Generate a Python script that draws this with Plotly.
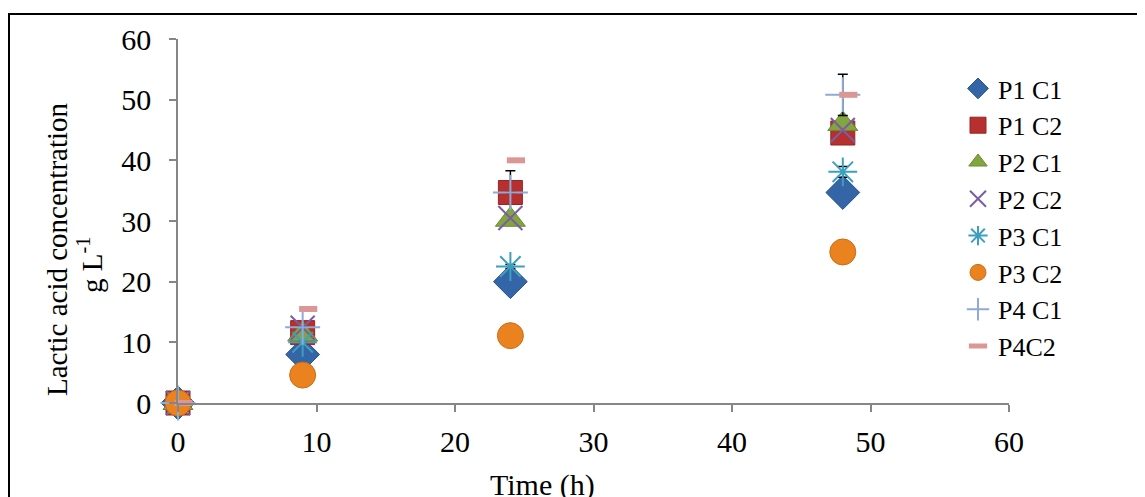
import plotly.graph_objects as go

# ---- data ----
times = [0, 9, 24, 48]
times_p4c2 = [0.4, 9.4, 24.4, 48.4]

p1c1 = [0, 8.0, 20.0, 34.7]
p1c2 = [0, 11.6, 34.7, 44.5]
p2c1 = [0, 11.3, 30.2, 46.0]
p2c2 = [0, 12.4, 30.5, 45.0]
p3c1 = [0, 10.0, 22.5, 38.1]
p3c2 = [0, 4.6, 11.1, 24.9]
p4c1 = [0, 12.5, 34.7, 50.8]
p4c2 = [0, 15.5, 40.0, 50.8]

p1c2_err = [0, 0, 3.6, 0]
p3c1_err = [0, 0, 0.35, 0.9]
p4c1_err = [0, 0, 0, 3.4]

x_ticks = [0, 10, 20, 30, 40, 50, 60]
y_ticks = [0, 10, 20, 30, 40, 50, 60]

FONT = "Liberation Serif"

fig = go.Figure()

def err(arr):
    return dict(type="data", array=arr, visible=True, color="black",
                thickness=1.5, width=5)

series = [
    ("P1 C1", times, p1c1, dict(symbol="diamond", size=26, color="#3465A6",
                               line=dict(color="#2A538A", width=1)), None),
    ("P1 C2", times, p1c2, dict(symbol="square", size=24, color="#B5302E",
                               line=dict(color="#962624", width=1)), p1c2_err),
    ("P2 C1", times, p2c1, dict(symbol="triangle-up", size=26, color="#82A53F",
                               line=dict(color="#6B8A32", width=1)), None),
    ("P2 C2", times, p2c2, dict(symbol="x-thin", size=24, color="#7A5DA3",
                               line=dict(color="#7A5DA3", width=2)), None),
    ("P3 C1", times, p3c1, dict(symbol="asterisk", size=24, color="#3BA0BF",
                               line=dict(color="#3BA0BF", width=2)), p3c1_err),
    ("P3 C2", times, p3c2, dict(symbol="circle", size=26, color="#E9821F",
                               line=dict(color="#C96E16", width=1)), None),
    ("P4 C1", times, p4c1, dict(symbol="cross-thin", size=25, color="#8EAAD6",
                               line=dict(color="#8EAAD6", width=2)), p4c1_err),
    ("P4C2", times_p4c2, p4c2, dict(symbol="line-ew", size=13, color="#DB9795",
                                   line=dict(color="#DB9795", width=6)), None),
]

for i, (name, xs, ys, mk, e) in enumerate(series):
    kw = {}
    if e is not None:
        kw["error_y"] = err(e)
    fig.add_trace(go.Scatter(
        x=xs, y=ys, name=name, mode="markers", marker=mk,
        cliponaxis=False, legendgroup=f"g{i}", **kw))

# page body has an 8px margin; compensate so the plot lands at target pixels
OFF = 8
W, H = 1145, 497
PL, PR, PT, PB = 178, 1009, 39, 403  # target plot-area pixel box
L = PL - OFF
T = PT - OFF
pw, ph = PR - PL, PB - PT
R = W - L - pw
B = H - T - ph

def px_x(p):
    return (p - PL) / pw

def px_y(p):
    return (PB - p) / ph

fig.update_layout(
    width=W, height=H,
    margin=dict(l=L, r=R, t=T, b=B),
    paper_bgcolor="white", plot_bgcolor="white",
    font=dict(family=FONT, size=28, color="black"),
    showlegend=True,
    legend=dict(x=px_x(958), y=px_y(65), xanchor="left", yanchor="top",
                font=dict(family=FONT, size=26), tracegroupgap=0,
                bgcolor="rgba(0,0,0,0)", itemsizing="trace"),
    xaxis=dict(range=[0, 60], tickvals=x_ticks, showgrid=False, zeroline=False,
               showline=True, linecolor="#868686", linewidth=1.5,
               ticks="outside", ticklen=7, tickcolor="#868686", tickwidth=1.5,
               ticklabelstandoff=4,
               tickfont=dict(family=FONT, size=30)),
    yaxis=dict(range=[0, 60], tickvals=y_ticks, showgrid=False, zeroline=False,
               showline=True, linecolor="#868686", linewidth=1.5,
               ticks="outside", ticklen=7, tickcolor="#868686", tickwidth=1.5,
               ticklabelstandoff=12,
               tickfont=dict(family=FONT, size=30)),
    shapes=[dict(type="rect", xref="paper", yref="paper",
                 x0=px_x(9), x1=px_x(1170), y0=px_y(530), y1=px_y(14),
                 line=dict(color="black", width=2), fillcolor="rgba(0,0,0,0)",
                 layer="below")],
    annotations=[
        dict(text="Lactic acid concentration", xref="paper", yref="paper",
             x=px_x(57), y=px_y(249), textangle=-90, showarrow=False,
             font=dict(family=FONT, size=29), xanchor="center", yanchor="middle"),
        dict(text="g L<sup>-1</sup>", xref="paper", yref="paper",
             x=px_x(90), y=px_y(265), textangle=-90, showarrow=False,
             font=dict(family=FONT, size=29), xanchor="center", yanchor="middle"),
        dict(text="Time (h)", xref="paper", yref="paper",
             x=px_x(542), y=px_y(485), showarrow=False,
             font=dict(family=FONT, size=30), xanchor="center", yanchor="middle"),
    ],
)

fig.write_html("out.html")
